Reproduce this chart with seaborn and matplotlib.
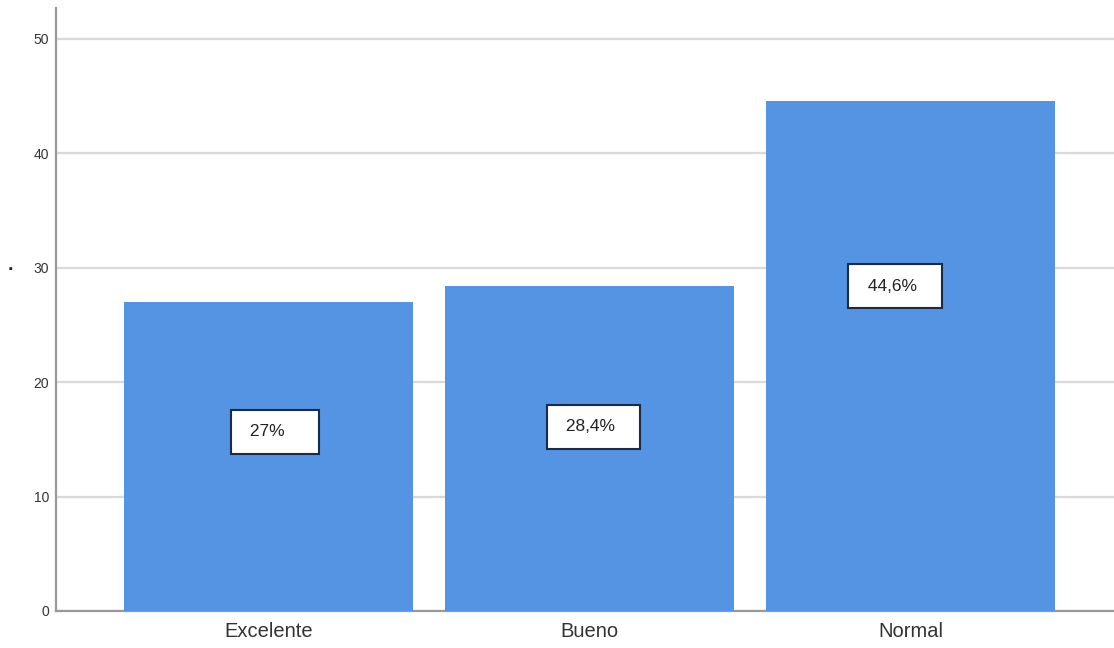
import matplotlib
matplotlib.use('Agg')
import matplotlib.pyplot as plt
import seaborn as sns
import pandas as pd

# data
categories = ['Excelente', 'Bueno', 'Normal']
percentages = [27.0, 28.4, 44.6]
bar_labels = ['27%', '28,4%', '44,6%']
y_ticks = [0, 10, 20, 30, 40, 50]

# where SPSS put the label boxes (data units)
label_x_shift = [0.02, 0.012, -0.048]
label_y = [15.65, 16.1, 28.4]

sns.set_style('white')
plt.rcParams['font.family'] = ['Liberation Sans', 'DejaVu Sans']

df = pd.DataFrame({'cat': categories, 'pct': percentages})

fig = plt.figure(figsize=(11.14, 6.48), dpi=100)
ax = fig.add_axes([0.0503, 0.0571, 0.9497, 0.9306])

sns.barplot(data=df, x='cat', y='pct', color='#5494E2', saturation=1,
            width=0.9, linewidth=0, ax=ax, zorder=3)

ax.set_ylim(0, 52.7)
ax.set_xlim(-0.662, 2.634)
ax.set_yticks(y_ticks)
ax.yaxis.grid(True, color='#d9d9d9', linewidth=1.6, zorder=0)
ax.set_axisbelow(True)

for s in ['top', 'right']:
    ax.spines[s].set_visible(False)
for s in ['left', 'bottom']:
    ax.spines[s].set_color('#999999')
    ax.spines[s].set_linewidth(1.6)

ax.tick_params(axis='y', length=0, pad=5, labelsize=10, labelcolor='#333333')
ax.tick_params(axis='x', length=0, pad=8, labelsize=14.5, labelcolor='#333333')
ax.set_xlabel('')
ax.set_ylabel('')

# the stray axis-title dot on the left
fig.text(0.009, 0.583, '.', fontsize=14, fontweight='bold', color='#222222',
         ha='center', va='baseline')

# boxed percentage labels
for i, lab in enumerate(bar_labels):
    txt = ' ' + lab + ('    ' if len(lab) < 4 else '  ')
    ax.text(i + label_x_shift[i], label_y[i], txt, ha='center', va='center',
            fontsize=12.5, color='#222222', zorder=5,
            bbox=dict(boxstyle='square,pad=0.85', facecolor='white',
                      edgecolor='#1a2a4a', linewidth=1.5))

plt.savefig('out.png', dpi=100)
